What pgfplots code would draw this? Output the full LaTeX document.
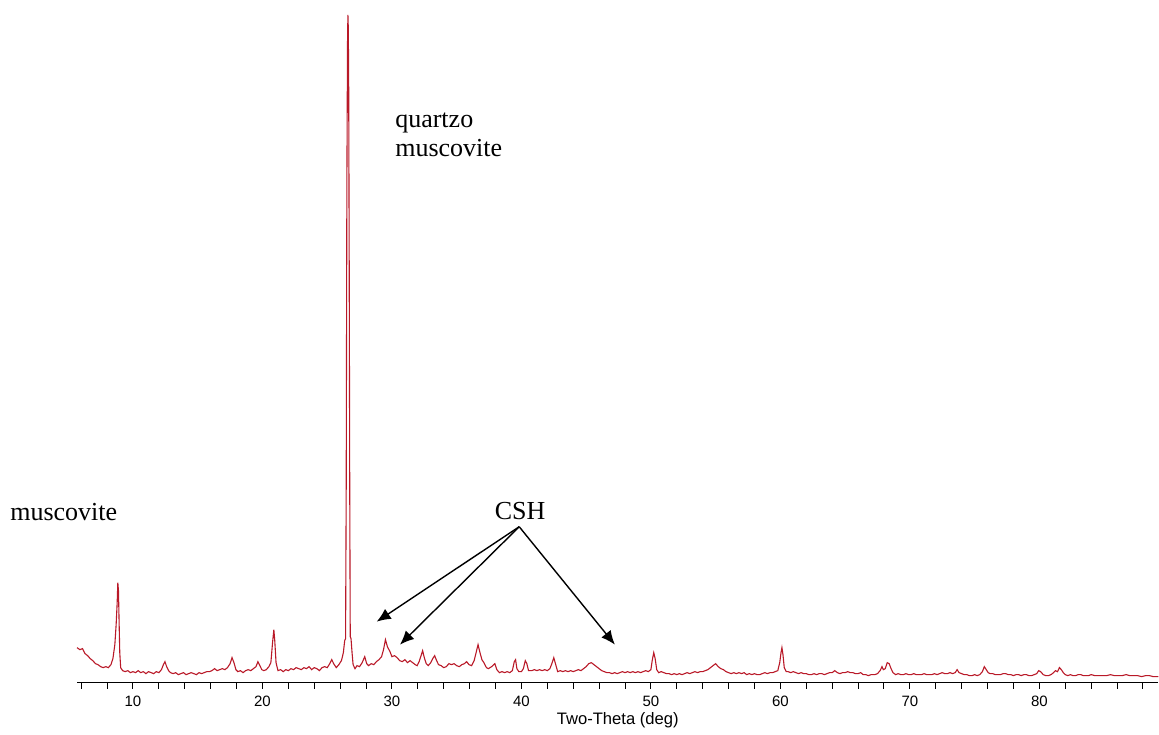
\documentclass[border=0pt]{standalone}
\usepackage{fontspec}
\setmainfont{Liberation Serif}
\newfontfamily\arial{Liberation Sans}
\usepackage{pgfplots}
\pgfplotsset{compat=1.18}
\usetikzlibrary{arrows.meta}
\definecolor{xrdred}{RGB}{185,25,40}

\pgfplotstableread{
deg val
5.68 35
5.9 33
6.1 34
6.3 29
6.5 27
6.7 24
6.9 22
7.1 19
7.3 18
7.5 16
7.7 15
7.9 16
8.1 15
8.3 18
8.45 24
8.6 38
8.7 58
8.78 80
8.83 100
8.88 92
8.93 60
8.98 30
9.05 15
9.2 12
9.4 11
9.6 12
9.8 10
10.0 11
10.2 10
10.4 12
10.6 10
10.8 11
11.0 9
11.2 11
11.4 10
11.6 9
11.8 11
12.0 10
12.2 13
12.35 18
12.47 21
12.6 16
12.75 12
12.9 10
13.1 9
13.3 10
13.5 8
13.7 9
13.9 10
14.1 8
14.3 9
14.5 10
14.7 9
14.9 8
15.1 10
15.3 9
15.5 10
15.7 11
15.9 11
16.1 12
16.3 14
16.5 12
16.7 13
16.9 14
17.1 13
17.3 15
17.5 19
17.65 25
17.8 20
17.95 13
18.1 11
18.3 12
18.5 10
18.7 12
18.9 13
19.1 12
19.3 14
19.5 16
19.65 21
19.8 17
19.95 13
20.1 12
20.3 13
20.5 16
20.65 20
20.78 40
20.88 53
20.95 42
21.05 20
21.2 12
21.4 13
21.6 11
21.8 13
22.0 12
22.2 14
22.4 13
22.6 15
22.8 14
23.0 13
23.2 15
23.4 14
23.6 16
23.8 13
24.0 15
24.2 14
24.4 12
24.6 15
24.8 16
25.0 15
25.2 19
25.35 23
25.5 19
25.7 15
25.9 18
26.1 22
26.25 30
26.35 42
26.42 44
26.47 200
26.52 500
26.57 640
26.6 668
26.63 655
26.66 600
26.70 420
26.74 200
26.78 46
26.84 44
26.92 30
27.0 18
27.15 14
27.3 17
27.5 16
27.7 20
27.9 26
28.05 19
28.2 17
28.4 19
28.6 18
28.8 21
29.0 23
29.2 26
29.35 33
29.5 43
29.65 36
29.85 31
30.0 26
30.2 27
30.4 25
30.6 22
30.8 21
31.0 23
31.2 20
31.4 22
31.6 20
31.8 18
31.95 17
32.1 21
32.25 27
32.37 32
32.5 25
32.65 19
32.8 17
33.0 20
33.15 24
33.3 27
33.45 22
33.6 18
33.8 17
34.0 15
34.2 16
34.4 19
34.6 18
34.8 19
35.0 17
35.2 16
35.4 18
35.6 19
35.77 21
35.95 18
36.15 17
36.35 22
36.5 30
36.65 38
36.8 30
36.95 23
37.1 20
37.3 15
37.45 14
37.7 16
37.95 19
38.1 13
38.3 10
38.5 11
38.7 10
38.9 11
39.1 10
39.3 12
39.45 21
39.55 23
39.65 14
39.8 11
40.0 11
40.15 14
40.3 22
40.42 19
40.55 12
40.8 12
41.0 13
41.2 12
41.4 13
41.6 12
41.8 13
42.0 12
42.2 14
42.35 19
42.5 25
42.65 18
42.8 11
43.0 12
43.2 11
43.4 12
43.6 11
43.8 12
44.0 11
44.2 12
44.4 13
44.6 12
44.8 14
45.0 16
45.2 19
45.4 20
45.6 18
45.8 16
46.0 14
46.2 12
46.4 11
46.6 10
46.8 10
47.0 9
47.2 10
47.4 9
47.6 10
47.8 11
48.0 10
48.2 11
48.4 10
48.6 11
48.8 10
49.0 11
49.2 10
49.4 11
49.6 12
49.8 11
50.0 13
50.1 22
50.22 30
50.33 24
50.45 13
50.6 10
50.8 11
51.0 10
51.2 9
51.4 9
51.6 8
51.8 9
52.0 8
52.2 9
52.4 8
52.6 9
52.8 10
53.0 9
53.2 10
53.4 11
53.6 10
53.8 11
54.0 11
54.2 12
54.4 13
54.6 15
54.8 17
55.0 19
55.2 16
55.4 14
55.6 13
55.8 11
56.0 10
56.2 9
56.4 10
56.6 9
56.8 10
57.0 9
57.2 10
57.4 8
57.6 9
57.8 8
58.0 9
58.2 8
58.4 8
58.6 9
58.8 10
59.0 9
59.2 10
59.4 10
59.6 11
59.8 12
59.95 20
60.05 30
60.12 35
60.2 28
60.3 15
60.45 11
60.6 11
60.8 10
61.0 11
61.2 10
61.4 9
61.6 10
61.8 9
62.0 9
62.2 8
62.4 8
62.6 9
62.8 8
63.0 9
63.2 9
63.4 8
63.6 9
63.8 10
64.0 10
64.2 12
64.4 10
64.6 9
64.8 10
65.0 10
65.2 11
65.4 10
65.6 10
65.8 9
66.0 9
66.2 10
66.4 8
66.6 8
66.8 7
67.0 8
67.3 8
67.5 9
67.7 12
67.85 16
67.95 13
68.1 14
68.25 20
68.4 19
68.55 14
68.7 10
68.9 8
69.1 9
69.3 8
69.5 8
69.7 9
69.9 8
70.1 8
70.3 9
70.5 8
70.7 8
70.9 8
71.1 9
71.3 8
71.5 8
71.7 8
71.9 9
72.1 8
72.3 9
72.5 10
72.7 9
72.9 9
73.1 10
73.3 9
73.5 10
73.65 13
73.8 10
74.0 9
74.2 8
74.4 8
74.6 7
74.8 7
75.0 8
75.2 7
75.4 8
75.6 11
75.75 16
75.9 13
76.05 10
76.2 9
76.4 9
76.6 8
76.8 8
77.0 8
77.2 9
77.4 9
77.6 8
77.8 8
78.0 7
78.2 8
78.4 8
78.6 7
78.8 8
79.0 8
79.2 7
79.4 7
79.6 8
79.8 9
79.95 12
80.1 11
80.3 8
80.5 7
80.7 7
80.9 8
81.1 10
81.25 12
81.4 11
81.55 15
81.7 13
81.85 10
82.0 8
82.2 7
82.4 8
82.6 7
82.8 7
83.0 8
83.2 8
83.4 7
83.6 7
83.8 7
84.0 8
84.3 7
84.6 7
84.9 7
85.2 7
85.5 8
85.8 7
86.1 7
86.4 7
86.7 8
87.0 7
87.3 7
87.6 7
87.9 6
88.2 7
88.5 7
88.8 6
89.2 6
}\xrd

\begin{document}
\begin{tikzpicture}
\begin{axis}[
  scale only axis, width=541pt, height=341.5pt,
  xmin=5.68, xmax=89.2, ymin=0, ymax=683,
  axis x line*=bottom, axis y line=none,
  x axis line style={-, black, line width=0.5pt},
  xtick={10,20,...,80}, minor xtick={6,8,...,88},
  tick align=outside, xtick pos=bottom,
  major tick length=3pt, minor tick length=3pt,
  every tick/.style={black, line width=0.5pt},
  /pgf/number format/assume math mode=true,
  xticklabel style={font=\arial\fontsize{7.5}{9}\selectfont, yshift=0pt},
  xlabel={Two-Theta (deg)},
  xlabel style={font=\arial\fontsize{8.3}{10}\selectfont, yshift=4pt},
  clip=false,
]
\addplot[xrdred, line width=0.55pt] table[x=deg, y=val] {\xrd};

% keep the page the size of the reference
\path (axis cs:-0.27,683) (axis cs:89.2,-45);

\node[anchor=west, inner sep=0pt, font=\fontsize{13}{15}\selectfont] at (axis cs:0.5,171) {muscovite};
\node[anchor=base west, font=\fontsize{13}{15}\selectfont, inner sep=0pt] at (axis cs:30.23,555) {quartzo};
\node[anchor=base west, font=\fontsize{13}{15}\selectfont, inner sep=0pt] at (axis cs:30.23,526) {muscovite};
\node[font=\fontsize{13}{15}\selectfont] at (axis cs:39.9,172) {CSH};

\draw[-{Latex[length=7pt,width=6pt]}, line width=0.7pt] (axis cs:39.83,156) -- (axis cs:28.82,61);
\draw[-{Latex[length=7pt,width=6pt]}, line width=0.7pt] (axis cs:39.83,156) -- (axis cs:30.62,38);
\draw[-{Latex[length=7pt,width=6pt]}, line width=0.7pt] (axis cs:39.83,156) -- (axis cs:47.22,38);
\end{axis}
\end{tikzpicture}
\end{document}
